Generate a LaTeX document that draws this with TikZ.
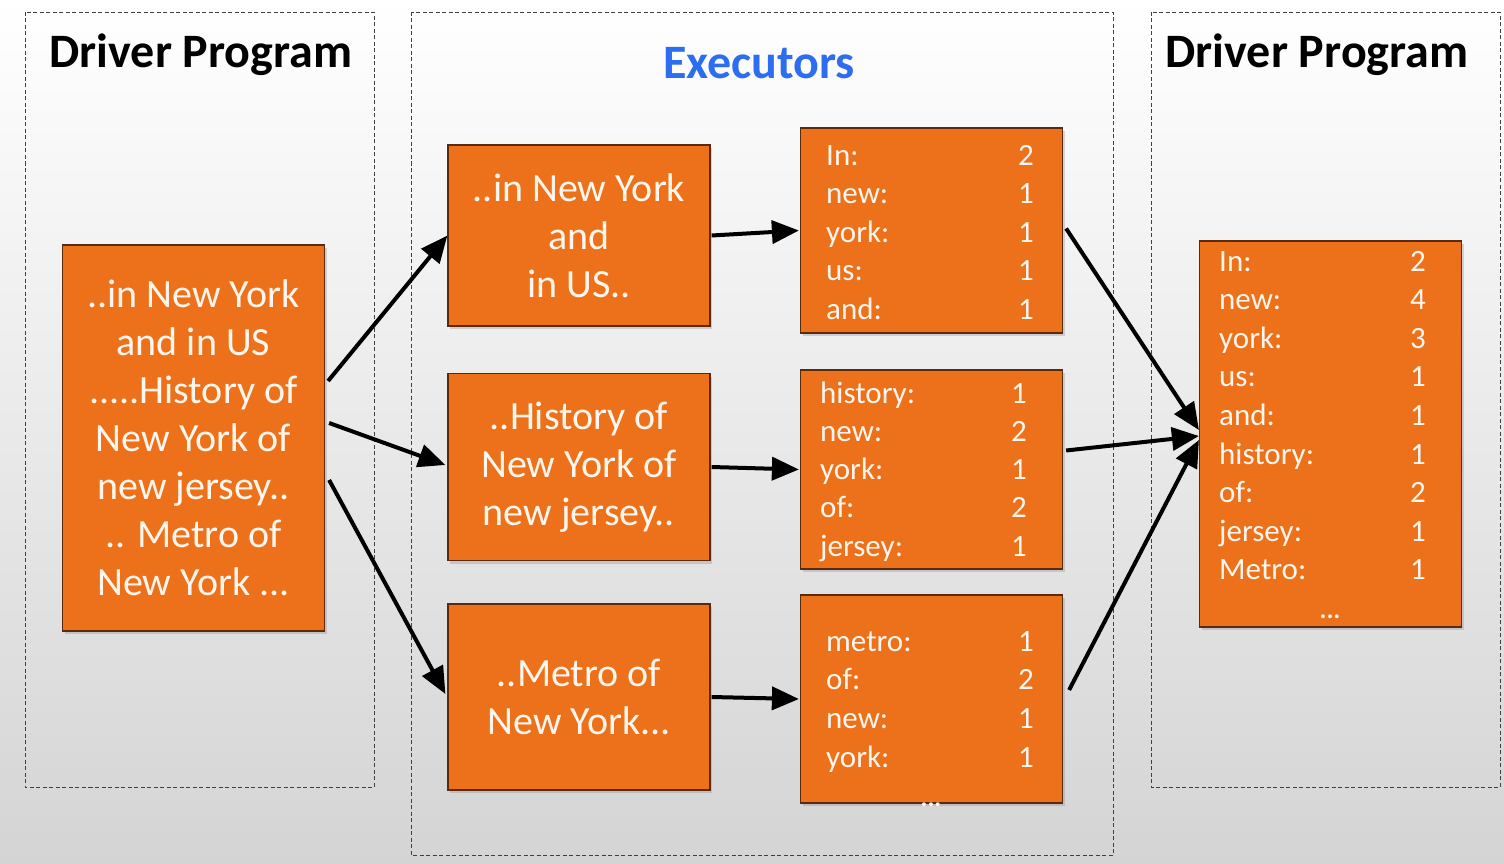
\documentclass[tikz,border=0pt]{standalone}
\usepackage{fontspec}
\setmainfont{Carlito}
\usetikzlibrary{arrows.meta,shadows,calc}
\definecolor{org}{RGB}{237,113,27}
\definecolor{orgline}{RGB}{90,42,12}
\definecolor{txt}{RGB}{255,246,238}
\definecolor{exblue}{RGB}{45,110,240}
\definecolor{bgbot}{RGB}{212,212,212}
\definecolor{bgmid}{RGB}{240,240,240}
\begin{document}
\begin{tikzpicture}[x=1pt,y=-1pt,
  obox/.style={draw=orgline, line width=1.2pt, fill=org, text=txt, inner sep=0pt,
    align=center, minimum width=262pt,
    drop shadow={opacity=0.3,shadow xshift=2pt,shadow yshift=-3pt}},
  bigtxt/.style={font=\fontsize{40}{48}\selectfont},
  frame/.style={draw=black!75, line width=0.9pt, dash pattern=on 4pt off 2.5pt},
  title/.style={font=\fontsize{48}{52}\selectfont\bfseries},
  tlab/.style={text=txt, font=\fontsize{31}{36}\selectfont, inner sep=0pt},
  dots/.style={text=txt, font=\fontsize{26}{28}\selectfont\bfseries, inner sep=0pt},
  arr/.style={line width=4pt, -{Triangle[length=27pt,width=23pt]}}]
\useasboundingbox (0,0) rectangle (1504,864);
\shade[top color=white, middle color=bgmid, bottom color=bgbot] (0,0) rectangle (1504,864);

% dashed frames
\draw[frame] (25,12) rectangle (374,787);
\draw[frame] (411,12) rectangle (1113,855);
\draw[frame] (1151,12) rectangle (1500,787);

% titles
\node[title] (dp1) at (201,55) {Driver Program};
\node[title, text=exblue] (ex) at (759,63) {Executors};
\node[title] (dp2) at (1317,55) {Driver Program};

% input box
\node[obox, bigtxt, minimum height=386pt] (L) at (193.5,438)
  {..in New York\\and in US\\.....History of\\New York of\\new jersey..\\.. Metro of\\New York ...};

% split boxes
\node[obox, bigtxt, minimum height=181pt] (b1) at (579,235.5) {..in New York\\and\\in US..};
\node[obox, bigtxt, minimum height=187pt] (b2) at (579,467) {..History of\\New York of\\new jersey..};
\node[obox, bigtxt, minimum height=186pt] (b3) at (579,697) {..Metro of\\New York...};

% count tables
\node[obox, minimum height=205pt] (t1) at (931.5,230.5) {};
\node[obox, minimum height=199pt] (t2) at (931.5,469.5) {};
\node[obox, minimum height=208pt] (t3) at (931.5,699) {};
\node[obox, minimum height=386pt] (R) at (1330.5,434) {};

\foreach \lab/\val [count=\i] in {In:/2, new:/1, york:/1, us:/1, and:/1}{
  \node[tlab, anchor=base west] (t1l\i) at (826,{165+38.5*(\i-1)}) {\lab};
  \node[tlab, anchor=base] (t1v\i) at (1026,{165+38.5*(\i-1)}) {\val};
}
\foreach \lab/\val [count=\i] in {history:/1, new:/2, york:/1, of:/2, jersey:/1}{
  \node[tlab, anchor=base west] (t2l\i) at (820,{403+38.25*(\i-1)}) {\lab};
  \node[tlab, anchor=base] (t2v\i) at (1019,{403+38.25*(\i-1)}) {\val};
}
\foreach \lab/\val [count=\i] in {metro:/1, of:/2, new:/1, york:/1}{
  \node[tlab, anchor=base west] (t3l\i) at (826,{651+38.7*(\i-1)}) {\lab};
  \node[tlab, anchor=base] (t3v\i) at (1026,{651+38.7*(\i-1)}) {\val};
}
\node[dots, anchor=base] (t3dots) at (931,806) {...};
\foreach \lab/\val [count=\i] in {In:/2, new:/4, york:/3, us:/1, and:/1, history:/1, of:/2, jersey:/1, Metro:/1}{
  \node[tlab, anchor=base west] (Rl\i) at (1219,{271+38.6*(\i-1)}) {\lab};
  \node[tlab, anchor=base] (Rv\i) at (1418,{271+38.6*(\i-1)}) {\val};
}
\node[dots, anchor=base] (Rdots) at (1330,618) {...};

% arrows
\draw[arr] ($(L.east)+(3,-57)$) -- (b1.west);
\draw[arr] ($(L.east)+(4,-15)$) -- ($(b2.west)+(-2,-2)$);
\draw[arr] ($(L.east)+(4,42)$) -- ($(b3.west)+(-2,-3)$);
\draw[arr] ($(b1.east)+(1,0)$) -- ($(t1.west)+(-1,0)$);
\draw[arr] ($(b2.east)+(1,0)$) -- ($(t2.west)+(-1,0)$);
\draw[arr] ($(b3.east)+(1,0)$) -- ($(t3.west)+(-1,0)$);
\draw[arr] ($(t1.east)+(3,-2)$) -- ($(R.west)+(0,-4)$);
\draw[arr] ($(t2.east)+(3,-19)$) -- ($(R.west)+(0,2)$);
\draw[arr] ($(t3.east)+(6,-9)$) -- ($(R.west)+(0,6)$);
\end{tikzpicture}
\end{document}
